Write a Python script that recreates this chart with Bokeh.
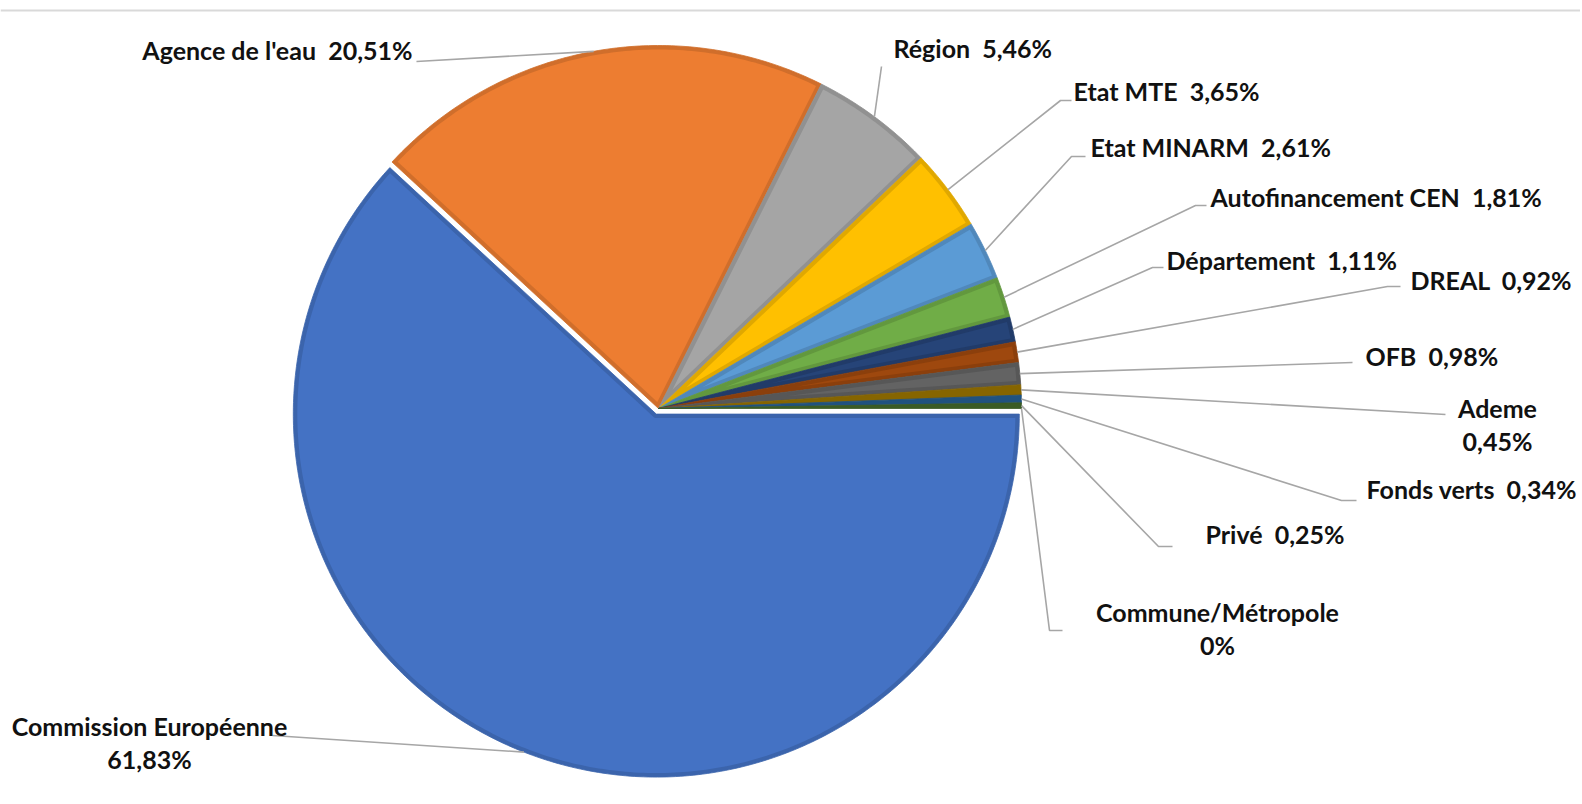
import numpy as np
from bokeh.plotting import figure
from bokeh.models import Range1d, ColumnDataSource
from bokeh.embed import file_html
from bokeh.resources import INLINE
from bokeh.core.properties import value

# ---------------- data ----------------
categories = ["Commission Européenne", "Agence de l'eau", "Région", "Etat MTE", "Etat MINARM",
              "Autofinancement CEN", "Département", "DREAL", "OFB", "Ademe",
              "Fonds verts", "Privé", "Commune/Métropole"]
shares = [61.83, 20.51, 5.46, 3.65, 2.61, 1.81, 1.11, 0.92, 0.98, 0.45, 0.34, 0.25, 0.0]
share_labels = ["61,83%", "20,51%", "5,46%", "3,65%", "2,61%", "1,81%", "1,11%",
                "0,92%", "0,98%", "0,45%", "0,34%", "0,25%", "0%"]
colors = ["#4472C4", "#ED7D31", "#A5A5A5", "#FFC000", "#5B9BD5", "#70AD47", "#264478",
          "#9E480E", "#636363", "#997300", "#255E91", "#43682B", "#698ED0"]

# ---------------- layout (page pixel coordinates) ----------------
W, H = 1580, 800
def to_data(X, Y):
    return X, H - Y

CX, CY = to_data(658, 408)
R = 363.0
BORDER = 4.0
EXPLODE = [6.0] + [0.0] * 12
TEXT_DY = -9

# label layout: index -> (two_lines, x, baseline of first line, align, leader points near label)
label_layout = {
    0: (True, 149, 734, "center", [(272, 735)]),
    1: (False, 412, 58, "right", [(416, 61)]),
    2: (False, 893, 56, "left", [(881, 66)]),
    3: (False, 1073, 99, "left", [(1071, 100), (1060, 100)]),
    4: (False, 1090, 155, "left", [(1085, 156), (1071, 156)]),
    5: (False, 1210, 205, "left", [(1206, 205), (1195, 205)]),
    6: (False, 1166, 268, "left", [(1163, 267), (1152, 267)]),
    7: (False, 1410, 288, "left", [(1400, 286), (1387, 286)]),
    8: (False, 1365, 364, "left", [(1352, 362)]),
    9: (True, 1497, 416, "center", [(1445, 414)]),
    10: (False, 1366, 497, "left", [(1356, 500), (1341, 500)]),
    11: (False, 1205, 542, "left", [(1172, 546), (1158, 546)]),
    12: (True, 1217, 620, "center", [(1062, 630), (1049, 630)]),
}
LINE_GAP = 33

def darker(hex_color, f=0.88):
    h = hex_color.lstrip("#")
    r, g, b = (int(h[i:i + 2], 16) for i in (0, 2, 4))
    return "#%02x%02x%02x" % (int(r * f), int(g * f), int(b * f))

# ---------------- geometry ----------------
total = sum(shares)
cum = np.concatenate([[0.0], np.cumsum(shares)])
outer_xs, outer_ys, outer_cols = [], [], []
inner_xs, inner_ys, inner_cols = [], [], []
anchor_pts = []
for i, v in enumerate(shares):
    hi = -cum[i] / total * 2 * np.pi
    lo = -cum[i + 1] / total * 2 * np.pi
    mid = 0.5 * (lo + hi)
    span = hi - lo
    ox = CX + EXPLODE[i] * np.cos(mid)
    oy = CY + EXPLODE[i] * np.sin(mid)
    anchor_pts.append((ox + R * np.cos(mid), oy + R * np.sin(mid)))
    if span <= 0:
        continue
    n = max(4, int(span * 80))
    t = np.linspace(lo, hi, n)
    outer_xs.append([ox] + list(ox + R * np.cos(t)))
    outer_ys.append([oy] + list(oy + R * np.sin(t)))
    outer_cols.append(darker(colors[i]))
    # inset polygon (fill inside the border)
    if span * R < 3 * BORDER or span < 0.05:
        continue
    Ri = R - BORDER
    tt = np.sqrt(Ri ** 2 - BORDER ** 2)
    dl = np.arctan2(BORDER, tt)
    ta = np.linspace(lo + dl, hi - dl, n)
    px = list(ox + Ri * np.cos(ta))
    py = list(oy + Ri * np.sin(ta))
    if span < np.pi:
        dist = BORDER / np.sin(span / 2)
        px.append(ox + dist * np.cos(mid))
        py.append(oy + dist * np.sin(mid))
    else:
        tc = np.linspace(hi - np.pi / 2, lo + np.pi / 2, 20)
        px += list(ox + BORDER * np.cos(tc))
        py += list(oy + BORDER * np.sin(tc))
    inner_xs.append(px)
    inner_ys.append(py)
    inner_cols.append(colors[i])

# ---------------- figure ----------------
p = figure(width=W, height=H, x_range=Range1d(0, W), y_range=Range1d(0, H),
           output_backend="svg", toolbar_location=None, min_border=0)
p.axis.visible = False
p.grid.visible = False
p.outline_line_color = None
p.background_fill_color = "white"

# top frame line
tx0, ty0 = to_data(0, 10)
tx1, _ = to_data(W, 10)
p.line([tx0, tx1], [ty0, ty0], line_color="#d9d9d9", line_width=2)

p.patches(xs="xs", ys="ys", fill_color="c", line_color="c", line_width=0.8,
          source=ColumnDataSource(dict(xs=outer_xs, ys=outer_ys, c=outer_cols)))
p.patches(xs="xs", ys="ys", fill_color="c", line_color=None,
          source=ColumnDataSource(dict(xs=inner_xs, ys=inner_ys, c=inner_cols)))

# leader lines
lx, ly = [], []
for i in range(len(shares)):
    two, X, Y, align, pts = label_layout[i]
    xs_ = [anchor_pts[i][0]]
    ys_ = [anchor_pts[i][1]]
    for (PX, PY) in reversed(pts):
        dx, dy = to_data(PX, PY)
        xs_.append(dx)
        ys_.append(dy)
    lx.append(xs_)
    ly.append(ys_)
p.multi_line(xs=lx, ys=ly, line_color="#a6a6a6", line_width=1.6)

# labels
tx, ty, tt_, ta = [], [], [], []
for i in range(len(shares)):
    two, X, Y, align, pts = label_layout[i]
    if two:
        lines = [categories[i], share_labels[i]]
    else:
        lines = [categories[i] + "\u00a0 " + share_labels[i]]
    for k, s in enumerate(lines):
        dx, dy = to_data(X, Y + TEXT_DY + k * LINE_GAP)
        tx.append(dx)
        ty.append(dy)
        tt_.append(s)
        ta.append(align)
p.text(x="x", y="y", text="t", text_align="a", text_baseline="alphabetic",
       text_font=value("Lato"), text_font_style="bold", text_font_size="25px",
       text_color="#111111",
       source=ColumnDataSource(dict(x=tx, y=ty, t=tt_, a=ta)))

open("out.html", "w").write(file_html(p, INLINE))
